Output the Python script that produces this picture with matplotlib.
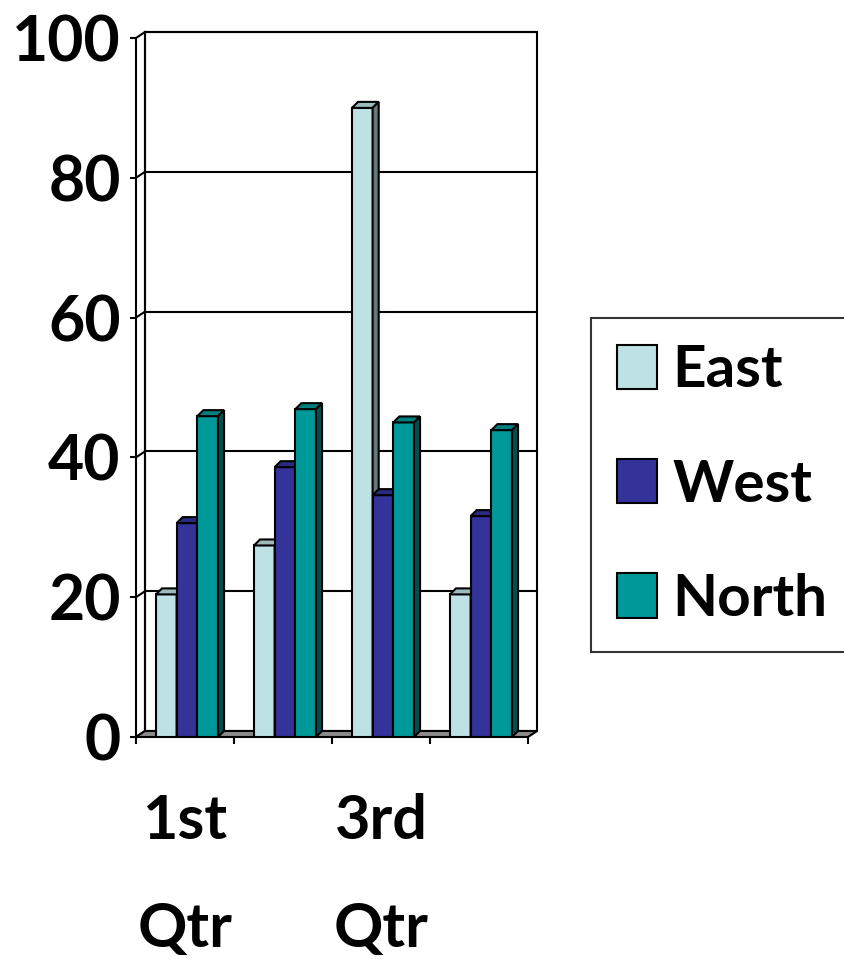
import numpy as np
import matplotlib
matplotlib.use("Agg")
import matplotlib.pyplot as plt
from matplotlib.patches import Polygon, Patch

plt.rcParams['font.family'] = ['Lato', 'DejaVu Sans']
plt.rcParams['font.weight'] = 'bold'

# data
categories = ['1st Qtr', '2nd Qtr', '3rd Qtr', '4th Qtr']
series = ['East', 'West', 'North']
east = [20.4, 27.4, 90, 20.4]
west = [30.6, 38.6, 34.6, 31.6]
north = [45.9, 46.9, 45, 43.9]
values = [east, west, north]

face = ['#BDE1E4', '#333399', '#009999']
top_col = ['#9DB9BC', '#2A2A80', '#007F7F']
side_col = ['#647A7C', '#1C1C55', '#004F4F']

fig = plt.figure(figsize=(8.45, 9.59), dpi=100)
ax = fig.add_axes([136 / 845, 1 - 737 / 959, 392 / 845, 699 / 959])
ax.set_xlim(-0.5, 3.5)
ax.set_ylim(0, 100)

# 3d offsets (data units)
wdx, wdy = 0.092, 0.86   # back wall
bdx, bdy = 0.062, 0.86   # bar depth
w = 0.211
shift = 0.02
lw = 1.5

# back wall + gridlines
x0, x1 = -0.5, 3.5
ax.add_patch(Polygon([(x0 + wdx, wdy), (x1 + wdx, wdy), (x1 + wdx, 100 + wdy), (x0 + wdx, 100 + wdy)],
                     closed=True, facecolor='white', edgecolor='black', lw=lw, zorder=1, clip_on=False))
for v in range(20, 101, 20):
    ax.plot([x0 + wdx, x1 + wdx], [v + wdy, v + wdy], color='black', lw=lw, zorder=1.5, clip_on=False)
for v in range(0, 101, 20):
    ax.plot([x0, x0 + wdx], [v, v + wdy], color='black', lw=lw, zorder=1.5, clip_on=False)
# side wall back edge
ax.plot([x0 + wdx, x0 + wdx], [wdy, 100 + wdy], color='black', lw=lw, zorder=1.5, clip_on=False)
# floor
ax.add_patch(Polygon([(x0, 0), (x1, 0), (x1 + wdx, wdy), (x0 + wdx, wdy)], closed=True,
                     facecolor='#8C8C8C', edgecolor='black', lw=lw, zorder=2, clip_on=False))

z = 3
for i in range(len(categories)):
    for j in range(len(series)):
        v = values[j][i]
        xl = i + shift + (j - 1) * w - w / 2
        ax.bar(xl, v, width=w, align='edge', color=face[j], edgecolor='black', lw=lw, zorder=z)
        ax.add_patch(Polygon([(xl, v), (xl + w, v), (xl + w + bdx, v + bdy), (xl + bdx, v + bdy)],
                             closed=True, facecolor=top_col[j], edgecolor='black', lw=lw, zorder=z, clip_on=False))
        ax.add_patch(Polygon([(xl + w, 0), (xl + w + bdx, bdy), (xl + w + bdx, v + bdy), (xl + w, v)],
                             closed=True, facecolor=side_col[j], edgecolor='black', lw=lw, zorder=z, clip_on=False))
        z += 1

for s in ['top', 'right', 'bottom']:
    ax.spines[s].set_visible(False)
ax.spines['left'].set_linewidth(lw)
ax.spines['left'].set_zorder(50)
ax.patch.set_visible(False)

ax.set_yticks(range(0, 101, 20))
ax.tick_params(axis='y', length=4, width=lw, pad=7, labelsize=45)

ax.set_xticks(range(len(categories)))
ax.set_xticklabels([c.replace(' ', '\n') if k % 2 == 0 else '' for k, c in enumerate(categories)],
                   linespacing=2.15)
ax.set_xticks(np.arange(-0.5, 4, 1), minor=True)
ax.tick_params(axis='x', which='major', length=0, pad=40, labelsize=44)
ax.tick_params(axis='x', which='minor', length=5, width=lw)

handles = [Patch(facecolor=face[j], edgecolor='black', lw=lw) for j in range(len(series))]
leg = fig.legend(handles, series, loc='upper left', bbox_to_anchor=(591 / 845, 1 - 318 / 959),
                 fontsize=42, frameon=True, fancybox=False, borderaxespad=0,
                 handlelength=0.69, handleheight=0.79, labelspacing=1.05, handletextpad=0.25,
                 borderpad=0.45)
leg.get_frame().set_edgecolor('black')
leg.get_frame().set_linewidth(lw)

fig.savefig('out.png', dpi=100)
